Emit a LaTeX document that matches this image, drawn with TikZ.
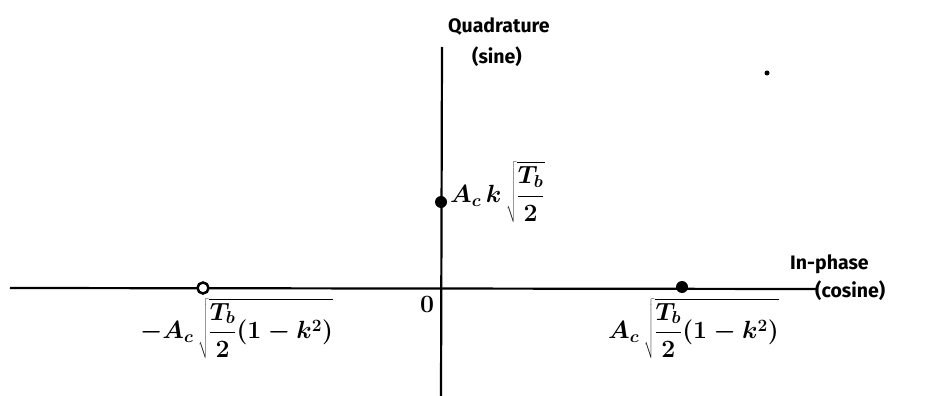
\documentclass[tikz,border=0pt]{standalone}
\usepackage{fontspec}
\setsansfont{Fira Sans}
\begin{document}
\begin{tikzpicture}[x=1pt,y=-1pt,
  axis/.style={line width=2.2pt, black},
  dotfill/.style={circle, fill=black, inner sep=0pt, minimum size=12pt},
  dotopen/.style={circle, draw=black, line width=2.5pt, fill=white, inner sep=0pt, minimum size=11pt},
  straydot/.style={circle, fill=black, inner sep=0pt, minimum size=5pt},
  lbl/.style={font=\sffamily\bfseries\fontsize{19.5}{22}\selectfont, inner sep=0pt},
  mlbl/.style={font=\boldmath\fontsize{23}{27}\selectfont, inner sep=0pt},
  zlbl/.style={font=\boldmath\fontsize{28}{30}\selectfont, inner sep=0pt}]
\useasboundingbox (0,0) rectangle (935,396);
\coordinate (hl) at (10,288);
\coordinate (hr) at (817,289);
\coordinate (vt) at (442,47);
\coordinate (vb) at (441,396);
\draw[axis] (hl) -- (hr);
\draw[axis] (vt) -- (vb);
\node[dotopen] (p1) at (203,288) {};
\node[dotfill] (p2) at (682,287) {};
\node[dotfill] (p3) at (441,202) {};
\node[straydot] (stray) at (767,73) {};
\node[lbl, anchor=west] (q1) at (448,27) {Quadrature};
\node[lbl, anchor=west] (q2) at (472,57) {(sine)};
\node[lbl, anchor=west] (i1) at (790,264) {In-phase};
\node[lbl, anchor=west] (i2) at (815,291) {(cosine)};
\node[zlbl] (zero) at (427,304) {$0$};
\node[mlbl, anchor=west] (lq) at (450,192) {$\displaystyle A_c\,k\,\sqrt{\frac{T_b}{2}}$};
\node[mlbl, anchor=north west] (ll) at (140,298) {$\displaystyle -A_c\,\sqrt{\frac{T_b}{2}(1-k^2)}$};
\node[mlbl, anchor=north west] (lr) at (608,298) {$\displaystyle A_c\,\sqrt{\frac{T_b}{2}(1-k^2)}$};
\end{tikzpicture}
\end{document}
